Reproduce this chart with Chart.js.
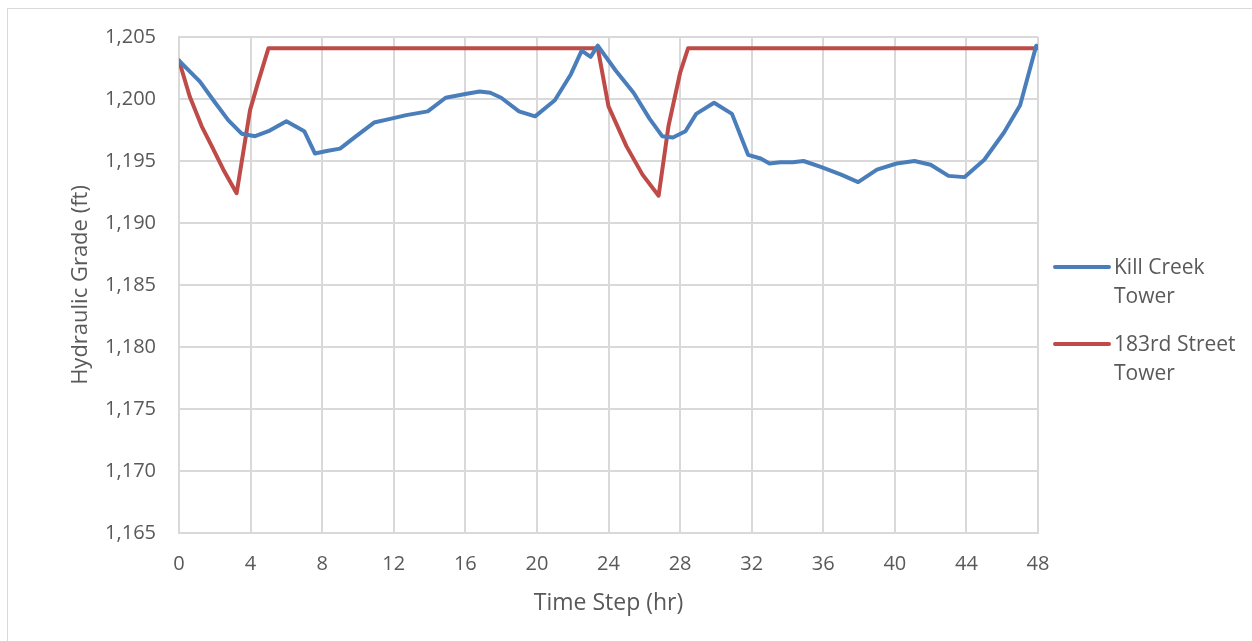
<!DOCTYPE html>
<html>
<head>
<meta charset="utf-8">
<script src="https://cdn.jsdelivr.net/npm/chart.js@4.4.1/dist/chart.umd.min.js"></script>
<style>
  html, body { margin: 0; padding: 0; background: #ffffff; }
  #wrap { position: relative; width: 1252px; height: 641px; }
  canvas { display: block; }
</style>
</head>
<body>
<div id="wrap"><canvas id="chart" width="1252" height="641"></canvas></div>
<script>
// Hourly hydraulic grade at the two elevated tanks over a 48-hour run
const killCreekHours = [0, 1.17, 1.92, 2.75, 3.5, 4.25, 5.0, 6.0, 7.0, 7.6, 8.25, 9.0, 9.9, 10.9, 11.8, 12.7, 13.9, 14.9, 16.0, 16.8, 17.4, 18.0, 19.0, 19.9, 21.0, 21.9, 22.5, 23.0, 23.4, 24.4, 25.4, 26.3, 27.0, 27.6, 28.3, 28.9, 29.9, 30.9, 31.8, 32.5, 33.0, 33.6, 34.3, 34.9, 35.9, 37.0, 37.95, 39.0, 40.1, 41.1, 42.0, 43.0, 43.9, 45.0, 46.1, 47.0, 47.9];
const killCreekGrade = [1203.1, 1201.4, 1199.9, 1198.3, 1197.2, 1197.0, 1197.4, 1198.2, 1197.4, 1195.6, 1195.8, 1196.0, 1197.0, 1198.1, 1198.4, 1198.7, 1199.0, 1200.1, 1200.4, 1200.6, 1200.5, 1200.1, 1199.0, 1198.6, 1199.9, 1202.0, 1203.9, 1203.4, 1204.3, 1202.3, 1200.5, 1198.4, 1197.0, 1196.9, 1197.4, 1198.8, 1199.7, 1198.8, 1195.5, 1195.2, 1194.8, 1194.9, 1194.9, 1195.0, 1194.5, 1193.9, 1193.3, 1194.3, 1194.8, 1195.0, 1194.7, 1193.8, 1193.7, 1195.1, 1197.3, 1199.5, 1204.3];

const streetHours = [0, 0.6, 1.27, 1.83, 2.48, 3.22, 3.97, 4.43, 5.0, 23.4, 24.0, 25.0, 25.9, 26.8, 27.35, 28.0, 28.45, 48];
const streetGrade = [1203.1, 1200.2, 1197.8, 1196.2, 1194.3, 1192.4, 1199.1, 1201.4, 1204.1, 1204.1, 1199.4, 1196.2, 1193.9, 1192.2, 1197.8, 1202.1, 1204.1, 1204.1];

const seriesNames = [['Kill Creek', 'Tower'], ['183rd Street', 'Tower']];
const seriesColors = ['#4A7EBB', '#BE4B48'];

const xTitle = 'Time Step (hr)';
const yTitle = 'Hydraulic Grade (ft)';

const toPoints = (xs, ys) => xs.map((x, i) => ({ x: x, y: ys[i] }));

const FONT = '"Open Sans", "Liberation Sans", sans-serif';
const TEXT = '#595959';
const GRID = '#D9D9D9';

// white page with a thin frame at the top-left edges
const framePlugin = {
  id: 'frame',
  beforeDraw(chart) {
    const ctx = chart.ctx;
    ctx.save();
    ctx.fillStyle = '#ffffff';
    ctx.fillRect(0, 0, chart.width, chart.height);
    ctx.strokeStyle = GRID;
    ctx.lineWidth = 1;
    ctx.strokeRect(7.5, 8.5, chart.width + 20, chart.height + 20);
    ctx.restore();
  }
};

// two-line legend entries at the right of the plot
const sideLegend = {
  id: 'sideLegend',
  afterDraw(chart) {
    const ctx = chart.ctx;
    const x0 = chart.chartArea.right + 17;
    const rows = [267, 344];
    ctx.save();
    ctx.font = '21px ' + FONT;
    ctx.textBaseline = 'middle';
    ctx.textAlign = 'left';
    chart.data.datasets.forEach((ds, i) => {
      const y = rows[i];
      ctx.strokeStyle = ds.borderColor;
      ctx.lineWidth = 4;
      ctx.lineCap = 'round';
      ctx.beginPath();
      ctx.moveTo(x0, y);
      ctx.lineTo(x0 + 54, y);
      ctx.stroke();
      ctx.fillStyle = TEXT;
      seriesNames[i].forEach((line, k) => {
        ctx.fillText(line, x0 + 59, y + 1 + k * 29);
      });
    });
    ctx.restore();
  }
};

new Chart(document.getElementById('chart'), {
  type: 'line',
  data: {
    datasets: [
      {
        label: seriesNames[0].join(' '),
        data: toPoints(killCreekHours, killCreekGrade),
        borderColor: seriesColors[0],
        borderWidth: 4,
        pointRadius: 0,
        tension: 0,
        borderJoinStyle: 'round',
        borderCapStyle: 'round'
      },
      {
        label: seriesNames[1].join(' '),
        data: toPoints(streetHours, streetGrade),
        borderColor: seriesColors[1],
        borderWidth: 4,
        pointRadius: 0,
        tension: 0,
        borderJoinStyle: 'round',
        borderCapStyle: 'round'
      }
    ]
  },
  options: {
    responsive: false,
    animation: false,
    layout: { padding: { left: 0, top: 37, right: 214, bottom: 0 } },
    plugins: {
      legend: { display: false },
      tooltip: { enabled: false }
    },
    scales: {
      x: {
        type: 'linear',
        min: 0,
        max: 48,
        afterFit(scale) { scale.height = 108; },
        ticks: {
          stepSize: 4,
          color: TEXT,
          padding: 19,
          maxRotation: 0,
          font: { family: FONT, size: 20 }
        },
        grid: { color: GRID, lineWidth: 2, drawTicks: false },
        border: { color: GRID, width: 2 },
        title: {
          display: true,
          text: xTitle,
          color: TEXT,
          font: { family: FONT, size: 23 },
          padding: { top: 0, bottom: 24 }
        }
      },
      y: {
        min: 1165,
        max: 1205,
        afterFit(scale) { scale.width = 179; },
        ticks: {
          stepSize: 5,
          color: TEXT,
          padding: 23,
          font: { family: FONT, size: 20 }
        },
        grid: { color: GRID, lineWidth: 2, drawTicks: false },
        border: { color: GRID, width: 2 },
        title: {
          display: true,
          text: yTitle,
          color: TEXT,
          font: { family: FONT, size: 22 },
          padding: { top: 68, bottom: 0 }
        }
      }
    }
  },
  plugins: [framePlugin, sideLegend]
});
</script>
</body>
</html>
